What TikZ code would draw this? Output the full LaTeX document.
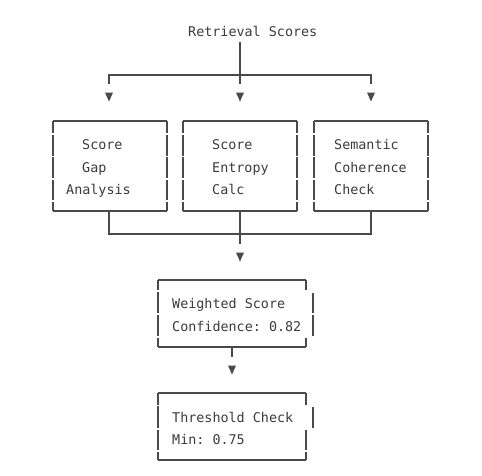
\documentclass[tikz,border=0pt]{standalone}
\usepackage{fontspec}
\setmonofont{DejaVu Sans Mono}
\definecolor{linec}{HTML}{4A4A4A}
\definecolor{textc}{HTML}{3C3C3C}
\newcommand\downtri[2]{\fill[tri] (#1-4,#2-4.5) -- (#1+4,#2-4.5) -- (#1,#2+4.5) -- cycle;}
\newcommand\vseg[3]{\draw[ln] (#1,#2) -- (#1,#3);}
\newcommand\sidesTop[1]{%
  \vseg{#1}{121}{133.2}\vseg{#1}{135}{155.6}\vseg{#1}{157.4}{178}\vseg{#1}{179.8}{200.4}\vseg{#1}{202.2}{211}}
\begin{document}
\begin{tikzpicture}[x=1pt,y=-1pt,
  ln/.style={draw=linec, line width=1.1pt, line cap=butt},
  tri/.style={fill=linec},
  txt/.style={anchor=base west, inner sep=0pt, text=textc,
    font=\ttfamily\fontsize{13.4}{16}\selectfont}]
\useasboundingbox[fill=white] (0,0) rectangle (482,475);

% title
\node[txt] (title) at (188,36) {Retrieval Scores};

% split connector
\coordinate (tA) at (240,42);
\coordinate (tB) at (240,84);
\coordinate (hL) at (109,75);
\coordinate (hR) at (371,75);
\coordinate (dL) at (109,84);
\coordinate (dR) at (371,84);
\draw[ln] (tA) -- (tB);
\draw[ln] (dL) -- (hL) -- (hR) -- (dR);
\downtri{109}{97}
\downtri{240}{97}
\downtri{371}{97}

% three boxes
\draw[ln] (53,121) -- (167,121) (53,211) -- (167,211);
\sidesTop{53}\sidesTop{167}
\draw[ln] (183,121) -- (297,121) (183,211) -- (297,211);
\sidesTop{183}\sidesTop{297}
\draw[ln] (314,121) -- (428,121) (314,211) -- (428,211);
\sidesTop{314}\sidesTop{428}

\node[txt] (b1a) at (82,149) {Score};
\node[txt] (b1b) at (82,172) {Gap};
\node[txt] (b1c) at (66,194) {Analysis};
\node[txt] (b2a) at (212,149) {Score};
\node[txt] (b2b) at (212,172) {Entropy};
\node[txt] (b2c) at (212,194) {Calc};
\node[txt] (b3a) at (334,149) {Semantic};
\node[txt] (b3b) at (334,172) {Coherence};
\node[txt] (b3c) at (334,194) {Check};

% merge connector
\coordinate (m1) at (109,211);
\coordinate (m2) at (240,211);
\coordinate (m3) at (371,211);
\coordinate (mL) at (109,234);
\coordinate (mR) at (371,234);
\coordinate (mD) at (240,244);
\draw[ln] (m1) -- (mL) -- (mR) -- (m3);
\draw[ln] (m2) -- (mD);
\downtri{240}{257}

% weighted box
\draw[ln] (158,280) -- (306,280) (158,347) -- (306,347);
\vseg{158}{280}{290.2}\vseg{158}{292}{313.4}\vseg{158}{315.2}{336.4}\vseg{158}{338.2}{347}
\vseg{306}{280}{290.2}
\vseg{313}{292.5}{313.4}\vseg{313}{315.4}{336.4}
\vseg{306}{338.2}{347}
\node[txt] (w1) at (172,308) {Weighted Score};
\node[txt] (w2) at (172,331) {Confidence: 0.82};

\coordinate (wA) at (232,347);
\coordinate (wB) at (232,357);
\draw[ln] (wA) -- (wB);
\downtri{232}{370}

% threshold box
\draw[ln] (158,393) -- (306,393) (158,460) -- (306,460);
\vseg{158}{393}{404.6}\vseg{158}{406.4}{427.8}\vseg{158}{429.6}{450.4}\vseg{158}{452.2}{460}
\vseg{306}{393}{404.6}
\vseg{313}{406.6}{427.8}
\vseg{306}{429.6}{450.4}\vseg{306}{452.2}{460}
\node[txt] (th1) at (172,422) {Threshold Check};
\node[txt] (th2) at (172,444) {Min: 0.75};
\end{tikzpicture}
\end{document}
